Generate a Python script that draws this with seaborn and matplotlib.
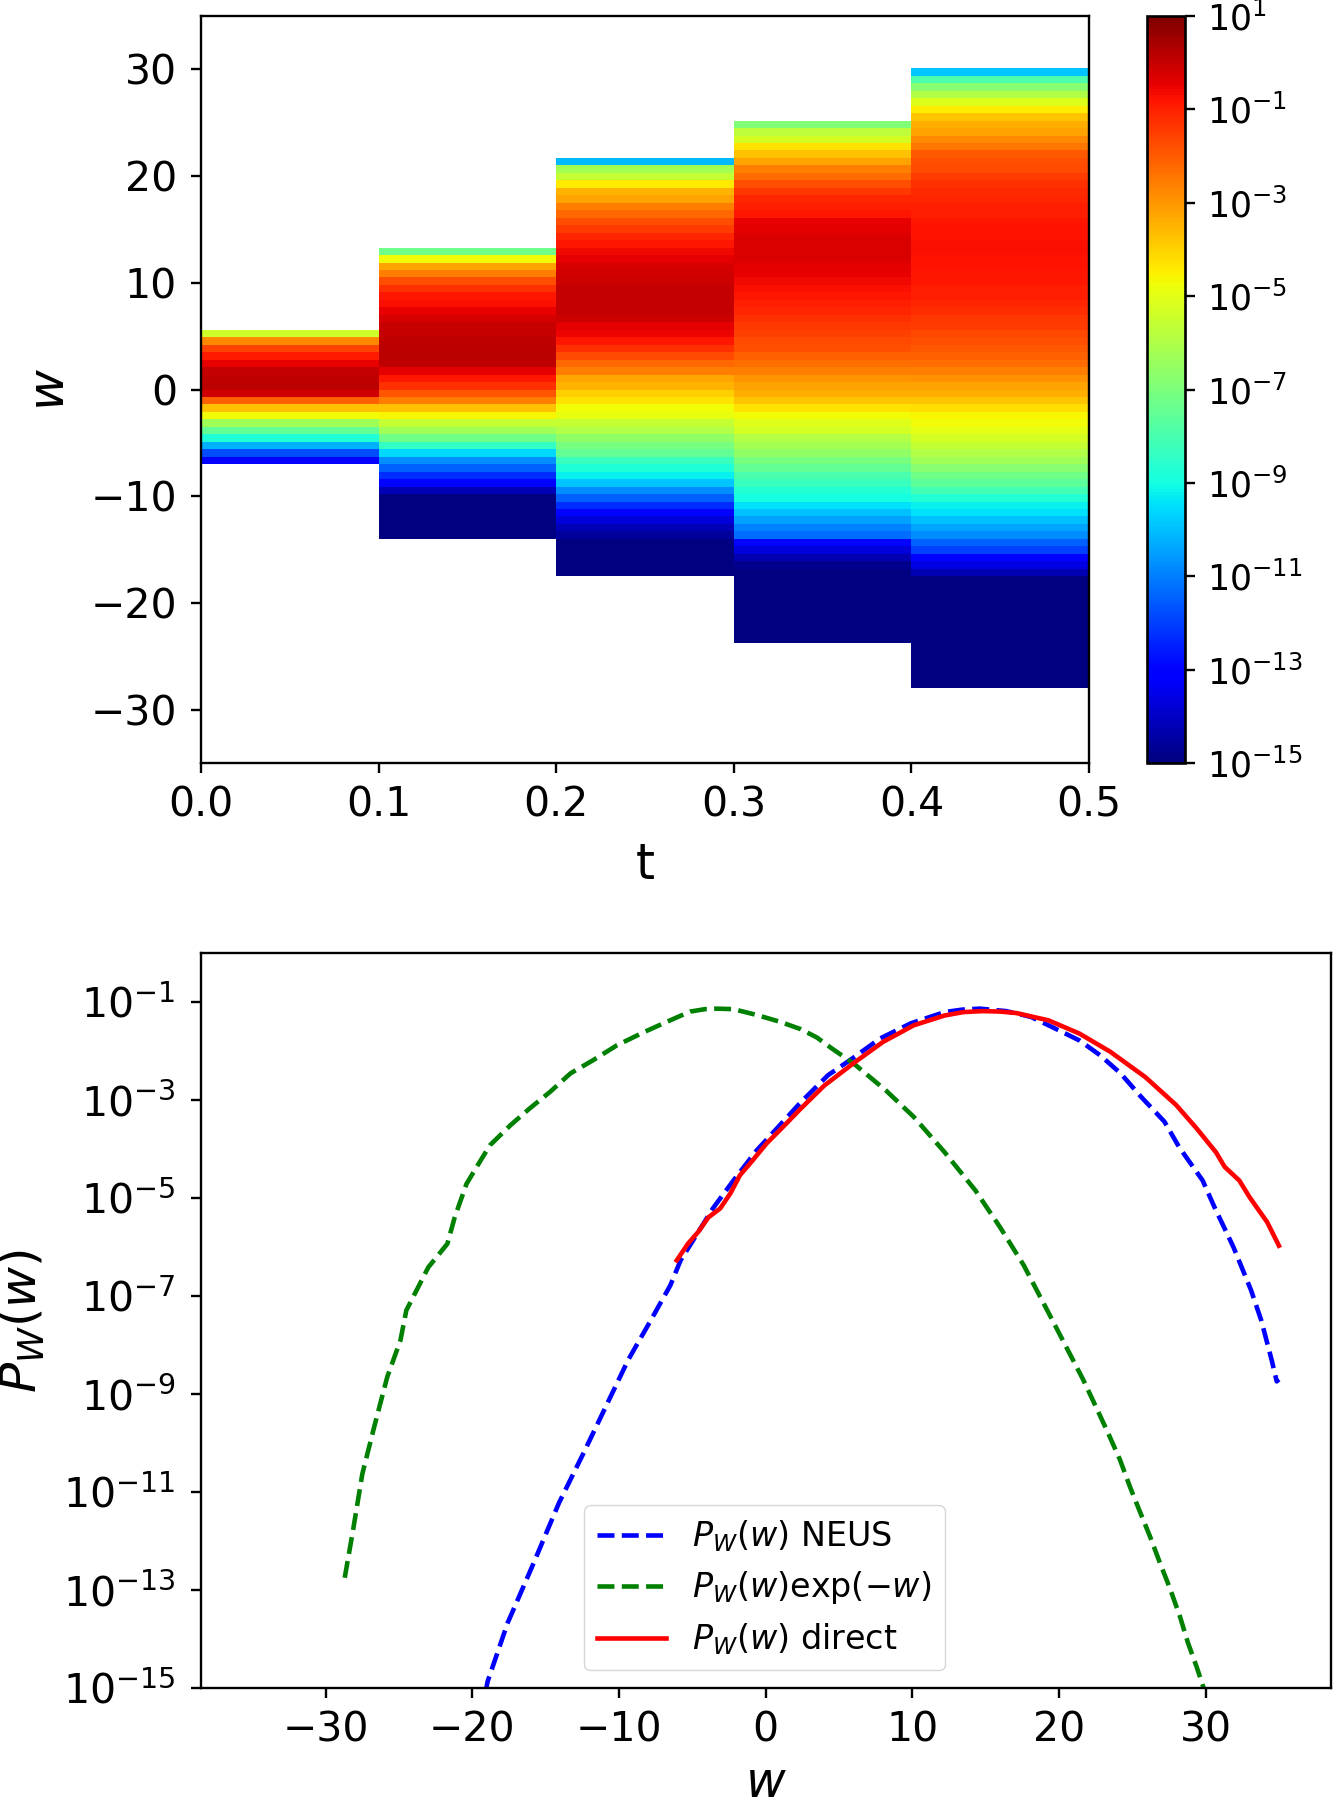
import numpy as np
import seaborn as sns
import matplotlib
matplotlib.use("Agg")
import matplotlib.pyplot as plt
from matplotlib.colors import LogNorm

# log10 of the density per w bin, top to bottom, one list per time slice
t_labels = ['0.0', '0.1', '0.2', '0.3', '0.4', '0.5']
w_labels = [30, 20, 10, 0, -10, -20, -30]
w_bin = 0.7
w_max = 35
col_top = [5.6, 13.3, 21.7, 25.2, 30.1]

col_1 = [-5.4, -2.8, -1.6, -0.9, -0.5, 0, 0.12, 0.15, -0.15, -2.1, -3.7, -4.7, -6.3, -7.5,
         -8.8, -10.2, -11.8, -13.1]
col_2 = [-7.2, -4.7, -3.2, -2.6, -1.8, -1.3, -0.85, -0.7, -0.45, -0.25, -0.05, 0.05, 0.1,
         0.15, 0.15, 0.1, -0.4, -0.85, -1.3, -1.9, -2.6, -3.7, -4.6, -5.6, -6.3, -7.2, -8.4,
         -9.6, -10.8, -11.5, -12.3, -13, -14.2, -15, -15, -15, -15, -15, -15]
col_3 = [-10.1, -6.2, -5.6, -4.4, -3.5, -3.2, -2.6, -2.2, -1.8, -1.5, -1.1, -0.85, -0.6, -0.4,
         -0.2, -0.15, -0.1, 0, 0, 0, 0, -0.1, -0.4, -0.55, -0.85, -1.3, -1.7, -2.2, -2.6, -3.3,
         -3.5, -3.95, -4.3, -4.75, -4.9, -5.6, -6, -6.6, -7.1, -7.5, -8.3, -8.8, -9.2, -9.9,
         -10.8, -11.5, -12.3, -13, -13.7, -14.2, -14.6, -15, -15, -15, -15, -15]
col_4 = [-6.9, -5.7, -5.3, -4.3, -3.7, -3.2, -2.6, -2.3, -1.8, -1.4, -1.1, -1.0, -0.85, -0.5,
         -0.4, -0.3, -0.3, -0.3, -0.3, -0.4, -0.5, -0.6, -0.7, -0.85, -1, -1.1, -1.3, -1.4,
         -1.55, -1.7, -1.8, -2.1, -2.35, -2.6, -3, -3.2, -3.4, -3.8, -4.3, -4.7, -5.1, -5.3,
         -5.9, -6.2, -6.6, -7.1, -7.5, -8, -8.3, -8.7, -9, -9.5, -10, -10.5, -11, -11.3, -13,
         -13.7, -14.3, -14.8, -15, -15, -15, -15, -15, -15, -15, -15, -15, -15]
col_5 = [-9.9, -7.9, -6.8, -6, -5.1, -4.5, -3.8, -3.4, -3.2, -2.8, -2.45, -2, -1.8, -1.7, -1.45,
         -1.3, -1.15, -1.1, -1, -0.95, -0.85, -0.8, -0.8, -0.75, -0.75, -0.8, -0.8, -0.85,
         -0.85, -0.95, -1, -1.1, -1.25, -1.4, -1.5, -1.65, -1.8, -1.95, -2.1, -2.3, -2.6, -2.9,
         -3.2, -3.4, -3.8, -4.2, -4.6, -4.75, -5, -5.3, -5.6, -6, -6.3, -6.8, -7.2, -7.6, -8.1,
         -8.7, -9.2, -9.5, -10, -10.4, -10.8, -11.5, -12, -13, -13.6, -14.3, -15, -15, -15, -15,
         -15, -15, -15, -15, -15, -15, -15, -15, -15, -15, -15]

# log10 of P_W(w)
neus_w = [-19.1, -18.96, -17.59, -15.92, -14.09, -12.41, -10.89, -9.37, -7.9,
          -6.5, -5.8, -4.8, -3.6, -2.2, -0.6, 1, 2.4, 4.25, 5.9, 7.8, 9.9, 12.2, 13.4, 14.6, 16.4, 18.1,
          19.7, 21.4, 22.8, 24.2, 25.6, 27.2, 28.2, 29.8, 30.6, 31.9, 33.1, 33.8, 34.5, 34.85, 35]
neus_p = [-15.1, -14.87, -13.67, -12.52, -11.22, -10.2, -9.25, -8.3, -7.53,
          -6.78, -6.27, -5.79, -5.21, -4.64, -4.02, -3.5, -3.04, -2.49, -2.15, -1.74, -1.43, -1.2,
          -1.15, -1.13, -1.18, -1.3, -1.53, -1.78, -2.08, -2.45, -2.93, -3.44, -3.96, -4.64, -5.18,
          -6.0, -6.88, -7.5, -8.3, -8.74, -8.7]

reweighted_w = [-28.7, -28.1, -27.5, -26.7, -25.8, -24.9, -24.5, -23, -21.7, -21.2, -20.4, -19.7,
                -18.8, -17.4, -16.1, -14.7, -13.3, -11.75, -10.15, -8.3, -6.75, -5.15, -4.13, -3.35,
                -2.2, -0.6, 1, 2.4, 3.5, 4.5, 6, 8.2, 10.1, 12.2, 14.3, 16, 17.6, 19.5, 21.66, 22.57,
                23.36, 24.16, 24.84, 25.52, 26.2, 26.88, 27.56, 28.25, 28.8, 29.38, 29.83, 30]
reweighted_p = [-12.75, -11.72, -10.63, -9.68, -8.65, -7.9, -7.29, -6.41, -5.93, -5.39, -4.71, -4.36,
                -3.92, -3.51, -3.17, -2.83, -2.45, -2.18, -1.88, -1.61, -1.4, -1.19, -1.14, -1.13,
                -1.14, -1.26, -1.4, -1.55, -1.72, -1.94, -2.25, -2.8, -3.34, -4.06, -4.84, -5.6,
                -6.37, -7.46, -8.71, -9.29, -9.8, -10.34, -10.89, -11.4, -11.9, -12.44, -12.96,
                -13.54, -14.08, -14.56, -14.97, -15.1]

direct_w = [-6.06, -5.3, -4.6, -3.9, -3.1, -2.4, -1.75, -1.06, 0.07, 1, 2.4, 4, 6.1, 8, 10.1, 12.2,
            13.5, 14.8, 16, 17.1, 19.3, 21.4, 23.5, 25.9, 28, 29.4, 30.7, 31.3, 32.3, 33, 34.2, 35]
direct_p = [-6.27, -5.93, -5.69, -5.39, -5.21, -4.9, -4.53, -4.29, -3.88, -3.6, -3.17, -2.7, -2.22,
            -1.81, -1.47, -1.27, -1.2, -1.18, -1.19, -1.22, -1.37, -1.64, -2.01, -2.53, -3.1, -3.58,
            -4.06, -4.36, -4.64, -4.98, -5.49, -5.97]

w_ticks = [-30, -20, -10, 0, 10, 20, 30]
decades = [1e-1, 1e-3, 1e-5, 1e-7, 1e-9, 1e-11, 1e-13, 1e-15]
cbar_ticks = [1e1] + decades


def minus(v):
    return str(v).replace('-', '\u2212')


def style_axes(ax, ypad):
    for spine in ax.spines.values():
        spine.set_visible(True)
        spine.set_linewidth(1.7)
    ax.tick_params(axis='both', which='major', length=7.4, width=1.7, labelsize=29.5)
    ax.tick_params(axis='x', which='major', pad=9)
    ax.tick_params(axis='y', which='major', pad=ypad)
    ax.tick_params(axis='both', which='minor', length=0)


W, H = 1333, 1800
fig = plt.figure(figsize=(W / 100, H / 100), dpi=100)


def px_axes(left, top, right, bottom):
    return fig.add_axes([left / W, 1 - bottom / H, (right - left) / W, (bottom - top) / H])


ax1 = px_axes(201, 16, 1089, 763)
cax = px_axes(1147, 16, 1185, 763)
ax2 = px_axes(201, 953.3, 1331, 1688)

# Top panel: density of w over time, white where nothing was sampled
n_rows = int(round(2 * w_max / w_bin))
matrix = np.full((n_rows, 5), np.nan)
for j, (top, col) in enumerate(zip(col_top, [col_1, col_2, col_3, col_4, col_5])):
    start = int(round((w_max - top) / w_bin))
    matrix[start:start + len(col), j] = 10.0 ** np.array(col)

sns.heatmap(matrix, ax=ax1, cbar_ax=cax, cmap='jet', norm=LogNorm(vmin=1e-15, vmax=10),
            xticklabels=False, yticklabels=False)
ax1.set_ylim(n_rows, 0)
ax1.set_xticks(range(6))
ax1.set_xticklabels(t_labels, rotation=0)
ax1.set_yticks([(w_max - v) / w_bin for v in w_labels])
ax1.set_yticklabels([minus(v) for v in w_labels], rotation=0)
style_axes(ax1, 9.8)
ax1.set_xlabel('t', fontsize=35)
ax1.set_ylabel('$w$', fontsize=36)
ax1.xaxis.set_label_coords(0.5, -0.105)
ax1.yaxis.set_label_coords(-0.143, 0.5)

cb = ax1.collections[0].colorbar
cb.set_ticks(cbar_ticks)
cb.ax.minorticks_off()
cb.outline.set_visible(True)
cb.outline.set_linewidth(1.9)
cb.ax.tick_params(length=7.4, width=1.7, pad=8.5, labelsize=25)

# Bottom panel: the three estimates of P_W(w)
sns.lineplot(x=neus_w, y=10.0 ** np.array(neus_p), ax=ax2, color='blue', linestyle='--',
             linewidth=3.3, sort=False, errorbar=None, label=r'$P_W(w)$ NEUS')
sns.lineplot(x=reweighted_w, y=10.0 ** np.array(reweighted_p), ax=ax2, color='green', linestyle='--',
             linewidth=3.3, sort=False, errorbar=None, label=r'$P_W(w)\exp(-w)$')
sns.lineplot(x=direct_w, y=10.0 ** np.array(direct_p), ax=ax2, color='red',
             linewidth=3.3, sort=False, errorbar=None, label=r'$P_W(w)$ direct')
ax2.set_yscale('log')
ax2.set_xlim(-38.5, 38.55)
ax2.set_ylim(1e-15, 1)
ax2.set_xticks(w_ticks)
ax2.set_xticklabels([minus(v) for v in w_ticks])
ax2.set_yticks(decades)
ax2.minorticks_off()
style_axes(ax2, 11)
ax2.set_xlabel('$w$', fontsize=35)
ax2.set_ylabel('$P_W(w)$', fontsize=36)
ax2.xaxis.set_label_coords(0.5, -0.097)
ax2.yaxis.set_label_coords(-0.136, 0.5)
ax2.legend(loc='lower left', bbox_to_anchor=(0.339, 0.024), borderaxespad=0, fontsize=24,
           handlelength=2.05, labelspacing=0.45)

fig.savefig('out.png', dpi=100)
